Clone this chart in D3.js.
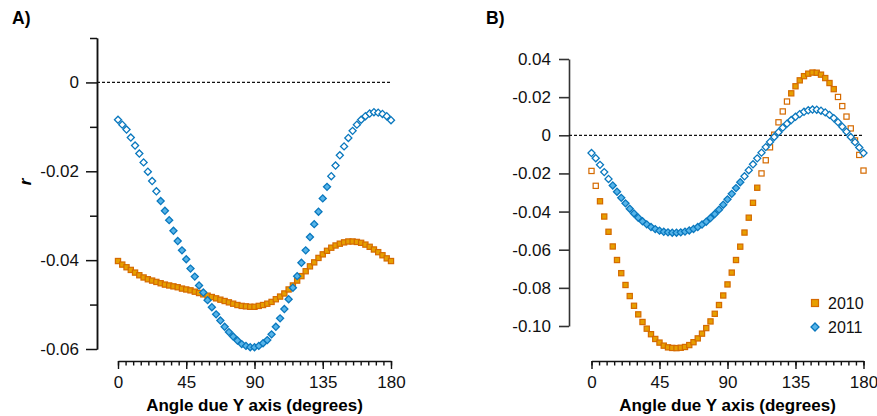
<!DOCTYPE html>
<html>
<head>
	<meta charset="utf-8">
	<title>Angle correlations</title>
	<style type="text/css">
		body { margin: 0; background: #fff; }
		svg, svg text { font-family: "Liberation Sans", Arial, sans-serif; }
		.tick text { font-size: 17px; fill: #111; }
		.axis-title { font-size: 17px; font-weight: bold; }
		.panel-label { font-size: 17.5px; font-weight: bold; }
	</style>
</head>
<body>
	<div id="chart"></div>
	<script src="https://d3js.org/d3.v7.min.js"></script>
	<script type="text/javascript">
		// sampling: 65 angles from 0 to 180 degrees
		var angleStep = 180 / 64;
		var angles = d3.range(65).map(function(i) { return i * angleStep; });

		// panel A
		var a2010 = [-0.0402, -0.0410, -0.0416, -0.0422, -0.0428, -0.0434, -0.0439, -0.0443, -0.0446, -0.0449,
			-0.0452, -0.0455, -0.0457, -0.0459, -0.0461, -0.0464, -0.0466, -0.0468, -0.0471, -0.0474,
			-0.0477, -0.0480, -0.0483, -0.0486, -0.0489, -0.0492, -0.0495, -0.0498, -0.0501, -0.0503,
			-0.0504, -0.0505, -0.0505, -0.0503, -0.0501, -0.0498, -0.0494, -0.0488, -0.0482, -0.0475,
			-0.0466, -0.0457, -0.0446, -0.0436, -0.0425, -0.0414, -0.0405, -0.0395, -0.0387, -0.0379,
			-0.0372, -0.0367, -0.0363, -0.0360, -0.0358, -0.0358, -0.0359, -0.0361, -0.0365, -0.0370,
			-0.0376, -0.0382, -0.0389, -0.0396, -0.0402];
		var a2011 = [-0.0084, -0.0095, -0.0106, -0.0124, -0.0142, -0.0160, -0.0180, -0.0201, -0.0222, -0.0245,
			-0.0267, -0.0289, -0.0310, -0.0334, -0.0357, -0.0378, -0.0398, -0.0419, -0.0437, -0.0457,
			-0.0473, -0.0490, -0.0506, -0.0522, -0.0536, -0.0550, -0.0562, -0.0572, -0.0581, -0.0589,
			-0.0593, -0.0596, -0.0596, -0.0593, -0.0587, -0.0580, -0.0567, -0.0550, -0.0531, -0.0510,
			-0.0488, -0.0462, -0.0436, -0.0406, -0.0378, -0.0348, -0.0319, -0.0291, -0.0261, -0.0235,
			-0.0211, -0.0187, -0.0164, -0.0144, -0.0125, -0.0109, -0.0095, -0.0084, -0.0076, -0.0070,
			-0.0067, -0.0068, -0.0071, -0.0076, -0.0085];

		// panel B
		var b2010 = [-0.0187, -0.0265, -0.0346, -0.0426, -0.0506, -0.0583, -0.0654, -0.0723, -0.0785, -0.0843,
			-0.0894, -0.0939, -0.0979, -0.1014, -0.1043, -0.1068, -0.1087, -0.1103, -0.1112, -0.1115,
			-0.1116, -0.1114, -0.1110, -0.1100, -0.1085, -0.1065, -0.1040, -0.1011, -0.0976, -0.0936,
			-0.0890, -0.0840, -0.0782, -0.0720, -0.0654, -0.0584, -0.0510, -0.0432, -0.0354, -0.0275,
			-0.0200, -0.0131, -0.0063, 0.0003, 0.0068, 0.0125, 0.0177, 0.0220, 0.0257, 0.0288,
			0.0310, 0.0323, 0.0329, 0.0328, 0.0318, 0.0300, 0.0274, 0.0242, 0.0201, 0.0153,
			0.0098, 0.0036, -0.0027, -0.0103, -0.0185];
		var b2011 = [-0.0093, -0.0120, -0.0155, -0.0193, -0.0229, -0.0263, -0.0296, -0.0328, -0.0357, -0.0385,
			-0.0410, -0.0432, -0.0451, -0.0467, -0.0481, -0.0492, -0.0500, -0.0506, -0.0509, -0.0511,
			-0.0511, -0.0509, -0.0505, -0.0499, -0.0491, -0.0481, -0.0468, -0.0453, -0.0434, -0.0413,
			-0.0390, -0.0364, -0.0336, -0.0307, -0.0277, -0.0246, -0.0215, -0.0183, -0.0152, -0.0121,
			-0.0091, -0.0062, -0.0035, -0.0009, 0.0016, 0.0040, 0.0061, 0.0080, 0.0097, 0.0111,
			0.0123, 0.0131, 0.0135, 0.0134, 0.0129, 0.0120, 0.0107, 0.0090, 0.0069, 0.0045,
			0.0019, -0.0009, -0.0036, -0.0064, -0.0093];

		// index ranges drawn as filled markers (the rest are hollow)
		var filledA2010 = [[0, 64]];
		var filledA2011 = [[10, 49]];
		var filledB2010 = [[2, 39], [47, 57]];
		var filledB2011 = [[5, 35]];

		var xMajor = [0, 45, 90, 135, 180];
		var xMinor = d3.range(0, 181, 5);
		var yMajorA = [0, -0.02, -0.04, -0.06];
		var yLabelsA = ["0", "-0.02", "-0.04", "-0.06"];
		var yMinorA = [0.01, -0.01, -0.03, -0.05];
		var yTicksB = [0.04, 0.02, 0, -0.02, -0.04, -0.06, -0.08, -0.10];
		var yLabelsB = ["0.04", "-0.02", "0", "-0.02", "-0.04", "-0.06", "-0.08", "-0.10"];
		var seriesNames = ["2010", "2011"];

		var colors = {
			"2010": { fill: "#E69F00", stroke: "#D56A00" },
			"2011": { fill: "#56B4E9", stroke: "#0A78BE" }
		};

		var width = 877, height = 416;
		var svg = d3.select("#chart").append("svg")
			.attr("width", width)
			.attr("height", height);

		var xAxisY = 361;

		function inRanges(ranges, i) {
			return ranges.some(function(r) { return i >= r[0] && i <= r[1]; });
		}

		function drawSquares(g, x, y, values, filled) {
			var s = 5.2;
			g.append("g").selectAll("rect")
				.data(values)
				.join("rect")
				.attr("x", function(d, i) { return x(angles[i]) - s / 2; })
				.attr("y", function(d) { return y(d) - s / 2; })
				.attr("width", s)
				.attr("height", s)
				.attr("fill", function(d, i) { return inRanges(filled, i) ? colors["2010"].fill : "#fff"; })
				.attr("stroke", colors["2010"].stroke)
				.attr("stroke-width", 1.2);
		}

		var diamond = d3.symbol().type(d3.symbolSquare).size(25);

		function drawDiamonds(g, x, y, values, filled) {
			g.append("g").selectAll("path")
				.data(values)
				.join("path")
				.attr("d", diamond)
				.attr("transform", function(d, i) {
					return "translate(" + x(angles[i]) + "," + y(d) + ") rotate(45)";
				})
				.attr("fill", function(d, i) { return inRanges(filled, i) ? colors["2011"].fill : "#fff"; })
				.attr("stroke", colors["2011"].stroke)
				.attr("stroke-width", 1.3);
		}

		function drawXAxis(x) {
			var g = svg.append("g").attr("transform", "translate(0," + xAxisY + ")");
			g.append("g")
				.call(d3.axisBottom(x).tickValues(xMinor).tickSize(4.5).tickSizeOuter(0).tickFormat(""))
				.call(function(s) { s.select(".domain").remove(); });
			g.append("g")
				.call(d3.axisBottom(x).tickValues(xMajor).tickSize(8).tickSizeOuter(0).tickPadding(7).tickFormat(d3.format("d")));
			g.selectAll("line, path").attr("stroke", "#111").attr("stroke-width", 1.4);
			g.selectAll("g").attr("font-family", null).attr("font-size", null);
			svg.append("text")
				.attr("class", "axis-title")
				.attr("x", (x.range()[0] + x.range()[1]) / 2)
				.attr("y", 411)
				.attr("text-anchor", "middle")
				.text("Angle due Y axis (degrees)");
		}

		// ---- panel A
		var xA = d3.scaleLinear().domain([0, 180]).range([118, 391]);
		var yA = d3.scaleLinear().domain([-0.06, 0.01]).range([349, 38]);
		var axisAx = 97;

		var gyA = svg.append("g").attr("transform", "translate(" + axisAx + ",0)");
		gyA.append("g")
			.call(d3.axisLeft(yA).tickValues(yMinorA).tickSize(7).tickSizeOuter(0).tickFormat(""));
		gyA.append("g")
			.call(d3.axisLeft(yA).tickValues(yMajorA).tickSize(11).tickSizeOuter(0).tickPadding(7)
				.tickFormat(function(d, i) { return yLabelsA[i]; }));
		gyA.selectAll("line, path").attr("stroke", "#111").attr("stroke-width", 1.5);
		gyA.selectAll("g").attr("font-family", null).attr("font-size", null);

		svg.append("line")
			.attr("x1", axisAx).attr("x2", xA(180))
			.attr("y1", yA(0)).attr("y2", yA(0))
			.attr("stroke", "#111").attr("stroke-width", 1.3)
			.attr("stroke-dasharray", "3,2");

		drawXAxis(xA);
		var pA = svg.append("g");
		drawSquares(pA, xA, yA, a2010, filledA2010);
		drawDiamonds(pA, xA, yA, a2011, filledA2011);

		svg.append("text").attr("class", "panel-label").attr("x", 12).attr("y", 24).text("A)");
		svg.append("text")
			.attr("transform", "translate(31,182) rotate(-90)")
			.attr("text-anchor", "middle")
			.style("font-size", "17px").style("font-weight", "bold").style("font-style", "italic")
			.text("r");

		// ---- panel B
		var xB = d3.scaleLinear().domain([0, 180]).range([591.5, 863.5]);
		var yB = d3.scaleLinear().domain([-0.10, 0.04]).range([326, 59]);
		var axisBx = 569;

		var gyB = svg.append("g").attr("transform", "translate(" + axisBx + ",0)");
		gyB.call(d3.axisLeft(yB).tickValues(yTicksB).tickSize(10).tickSizeOuter(0).tickPadding(8)
			.tickFormat(function(d, i) { return yLabelsB[i]; }));
		gyB.selectAll("line, path").attr("stroke", "#333").attr("stroke-width", 1.6);
		gyB.attr("font-family", null).attr("font-size", null);

		svg.append("line")
			.attr("x1", axisBx).attr("x2", xB(180))
			.attr("y1", yB(0)).attr("y2", yB(0))
			.attr("stroke", "#111").attr("stroke-width", 1.3)
			.attr("stroke-dasharray", "3,2");

		drawXAxis(xB);
		var pB = svg.append("g");
		drawSquares(pB, xB, yB, b2010, filledB2010);
		drawDiamonds(pB, xB, yB, b2011, filledB2011);

		svg.append("text").attr("class", "panel-label").attr("x", 486).attr("y", 24).text("B)");

		// legend
		var legend = svg.append("g").attr("transform", "translate(815,303)");
		seriesNames.forEach(function(name, i) {
			var row = legend.append("g").attr("transform", "translate(0," + (i * 24) + ")");
			if (i === 0) {
				row.append("rect").attr("x", -3.5).attr("y", -3.5).attr("width", 7).attr("height", 7)
					.attr("fill", colors[name].fill).attr("stroke", colors[name].stroke).attr("stroke-width", 1.2);
			} else {
				row.append("path").attr("d", d3.symbol().type(d3.symbolSquare).size(32))
					.attr("transform", "rotate(45)")
					.attr("fill", colors[name].fill).attr("stroke", colors[name].stroke).attr("stroke-width", 1.3);
			}
			row.append("text").attr("x", 13).attr("y", 5.5)
				.style("font-size", "16px").attr("fill", "#111")
				.text(name);
		});
	</script>
</body>
</html>
